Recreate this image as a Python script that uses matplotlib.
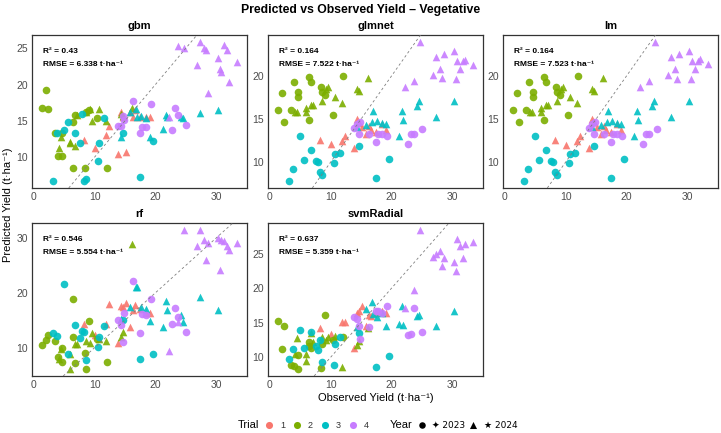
import matplotlib.pyplot as plt
from matplotlib.ticker import MultipleLocator

plt.rcParams['font.family'] = ['Liberation Sans', 'DejaVu Sans']

# observed yield, grouped: T1-2024, T2-2023, T2-2024, T3-2023, T3-2024, T4-2023, T4-2024
observed = [8.3, 10.0, 11.9, 12.4, 13.9, 14.4, 14.7, 15.2, 15.8, 16.4, 16.6, 17.5, 18.4, 19.2,
            1.3, 2.0, 2.3, 3.4, 4.0, 4.6, 4.7, 6.4, 6.5, 6.7, 8.4, 8.6, 9.1, 10.4, 12.0,
            4.1, 4.4, 5.9, 6.0, 6.7, 7.1, 8.6, 9.3, 9.6, 10.8, 11.8, 14.3, 14.6, 16.1,
            3.2, 3.8, 4.9, 5.7, 6.7, 7.6, 8.0, 8.3, 8.6, 10.5, 10.7, 11.5, 14.6, 17.5, 19.6,
            14.3, 15.9, 16.8, 17.0, 17.6, 18.4, 19.1, 21.3, 21.8, 22.0, 24.2, 24.5, 27.4, 30.3,
            13.9, 14.3, 14.6, 14.9, 16.3, 17.5, 17.8, 18.4, 19.3, 22.8, 23.2, 23.7, 25.1,
            22.2, 23.8, 24.7, 26.9, 27.4, 28.0, 28.3, 28.7, 30.4, 30.6, 30.9, 31.3, 31.8, 32.2, 33.5]
trial = [1] * 14 + [2] * 15 + [2] * 14 + [3] * 15 + [3] * 14 + [4] * 13 + [4] * 15
year = [2024] * 14 + [2023] * 15 + [2024] * 14 + [2023] * 15 + [2024] * 14 + [2023] * 13 + [2024] * 15

pred_gbm = [12.3, 11.2, 13.0, 14.3, 10.5, 16.2, 15.5, 10.7, 16.2, 15.6, 16.5, 15.6, 15.5, 15.6,
            16.8, 19.2, 16.7, 13.4, 10.1, 10.1, 13.3, 14.8, 8.5, 15.8, 8.5, 16.2, 16.5, 15.4, 8.5,
            11.3, 12.8, 12.1, 11.9, 11.6, 15.8, 16.3, 16.7, 15.0, 16.7, 15.0, 16.0, 15.7, 16.8,
            6.7, 13.4, 13.7, 14.9, 13.3, 12.0, 16.0, 6.7, 7.0, 9.5, 11.9, 15.4, 13.3, 7.3, 12.2,
            12.8, 16.3, 16.7, 15.6, 15.7, 15.4, 12.8, 13.9, 15.8, 15.5, 15.6, 15.4, 16.1, 16.5,
            14.3, 14.3, 15.7, 15.1, 17.8, 13.4, 14.2, 14.2, 17.4, 13.8, 16.8, 15.8, 14.4,
            15.6, 25.4, 25.0, 22.7, 25.9, 25.0, 24.8, 18.8, 23.7, 22.1, 21.8, 25.5, 24.8, 20.4, 23.1]
pred_glmnet = [12.6, 12.1, 12.5, 13.1, 11.7, 15.0, 14.6, 14.1, 13.3, 14.2, 13.8, 13.5, 14.4, 13.7,
               16.1, 18.1, 14.7, 16.1, 19.3, 18.2, 17.6, 19.9, 14.9, 19.3, 18.8, 18.2, 17.8, 15.5, 20.0,
               15.8, 15.9, 16.3, 15.8, 16.7, 16.7, 17.1, 18.5, 18.7, 17.6, 16.9, 18.5, 18.3, 19.8,
               7.8, 9.2, 13.0, 10.3, 11.4, 10.1, 10.0, 8.9, 8.5, 9.9, 11.0, 11.1, 11.9, 8.1, 10.4,
               14.1, 14.3, 14.7, 16.0, 14.8, 14.6, 14.5, 13.1, 16.0, 14.9, 16.5, 17.1, 15.3, 17.1,
               14.0, 14.4, 13.3, 14.7, 13.3, 12.3, 13.3, 13.3, 13.1, 12.1, 13.3, 13.3, 13.9,
               18.7, 19.5, 24.0, 20.1, 22.2, 20.8, 19.8, 22.6, 23.0, 19.7, 21.8, 20.8, 21.8, 21.9, 21.3]
pred_lm = [12.6, 12.0, 12.5, 13.1, 11.7, 15.0, 14.7, 14.1, 13.3, 14.2, 13.8, 13.5, 14.4, 13.7,
           16.1, 18.1, 14.7, 16.1, 19.3, 18.2, 17.6, 19.9, 14.9, 19.3, 18.8, 18.2, 17.8, 15.5, 20.0,
           15.8, 15.9, 16.3, 15.8, 16.7, 16.7, 17.1, 18.5, 18.7, 17.6, 16.9, 18.5, 18.3, 19.8,
           7.8, 9.2, 13.0, 10.3, 11.4, 10.1, 10.0, 8.9, 8.5, 9.9, 11.0, 11.1, 11.9, 8.1, 10.4,
           14.1, 14.3, 14.7, 16.0, 14.8, 14.6, 14.5, 13.1, 16.0, 14.9, 16.5, 17.1, 15.3, 17.1,
           14.0, 14.4, 13.3, 14.7, 13.3, 12.3, 13.3, 13.3, 13.1, 12.1, 13.3, 13.3, 13.9,
           18.7, 19.5, 24.0, 20.1, 22.2, 20.9, 19.7, 22.6, 23.0, 19.7, 21.8, 20.9, 21.8, 22.0, 21.4]
pred_rf = [14.3, 12.3, 14.3, 17.9, 10.9, 17.6, 17.5, 18.1, 13.7, 16.8, 17.8, 17.0, 16.4, 16.3,
           10.5, 11.4, 12.3, 11.2, 8.3, 10.0, 7.4, 18.9, 12.0, 7.2, 9.1, 6.1, 14.9, 11.5, 7.4,
           7.9, 9.7, 6.1, 8.8, 10.6, 10.6, 11.2, 10.9, 12.6, 11.5, 11.2, 12.0, 12.9, 29.0,
           12.6, 12.1, 21.6, 8.9, 14.1, 11.8, 13.0, 12.9, 7.7, 10.1, 12.0, 14.0, 15.0, 8.0, 8.9,
           15.2, 17.5, 21.1, 21.0, 17.5, 17.0, 14.9, 13.7, 18.6, 16.9, 15.9, 14.7, 19.3, 16.8,
           15.0, 14.2, 11.1, 16.3, 22.2, 12.6, 16.1, 16.0, 18.9, 14.4, 17.3, 15.6, 12.9,
           9.4, 14.6, 31.5, 28.5, 31.5, 29.7, 26.0, 29.1, 30.0, 24.1, 29.7, 29.4, 28.5, 27.9, 29.1]
pred_svm = [14.3, 13.4, 15.2, 15.2, 11.4, 16.5, 16.7, 17.5, 14.6, 16.2, 16.0, 16.4, 16.8, 16.4,
            15.3, 11.2, 14.5, 8.9, 8.8, 10.4, 8.3, 12.2, 11.6, 11.3, 8.5, 12.0, 16.2, 12.5, 13.0,
            10.5, 12.8, 10.5, 9.5, 13.6, 12.3, 12.9, 12.5, 12.9, 13.1, 8.6, 11.8, 12.4, 14.2,
            9.8, 11.2, 13.9, 11.4, 13.7, 11.7, 11.1, 12.5, 9.3, 8.9, 12.0, 13.0, 13.5, 8.6, 10.2,
            14.4, 17.0, 18.0, 16.3, 15.9, 16.5, 14.5, 14.9, 17.5, 14.7, 16.0, 16.2, 14.6, 16.7,
            15.9, 15.5, 14.6, 12.6, 14.4, 16.8, 16.7, 16.5, 17.4, 13.3, 13.4, 17.2, 13.7,
            17.2, 19.8, 28.5, 24.5, 25.0, 25.4, 23.2, 24.4, 23.9, 22.5, 27.2, 26.2, 24.4, 26.4, 26.7]

models = ["gbm", "glmnet", "lm", "rf", "svmRadial"]
predictions = [pred_gbm, pred_glmnet, pred_lm, pred_rf, pred_svm]
r2_vals = ["0.43", "0.164", "0.164", "0.546", "0.637"]
rmse_vals = ["6.338", "7.522", "7.523", "5.554", "5.359"]
y_steps = [5, 5, 5, 10, 5]

trial_colors = {1: "#F8766D", 2: "#7CAE00", 3: "#00BFC4", 4: "#C77CFF"}
year_markers = {2023: "o", 2024: "^"}

W, H = 721, 433
fig = plt.figure(figsize=(W / 100, H / 100), dpi=100)

# panel boxes in pixels: left, top
panel_px = [(32, 35), (268, 35), (503, 35), (32, 223), (268, 223)]
pw, ph = 215, 153


def expand(vals):
    lo, hi = min(vals), max(vals)
    pad = 0.05 * (hi - lo)
    return lo - pad, hi + pad


for name, pred, r2, rmse, step, (px, py) in zip(models, predictions, r2_vals, rmse_vals,
                                                  y_steps, panel_px):
    ax = fig.add_axes([px / W, 1 - (py + ph) / H, pw / W, ph / H])
    for t in [1, 2, 3, 4]:
        for yr in [2023, 2024]:
            xs = [o for o, tt, y in zip(observed, trial, year) if tt == t and y == yr]
            ys = [p for p, tt, y in zip(pred, trial, year) if tt == t and y == yr]
            if xs:
                ax.scatter(xs, ys, s=30, marker=year_markers[yr], color=trial_colors[t],
                           alpha=0.9, linewidths=0, zorder=2)
    ax.axline((0, 0), slope=1, color="#7F7F7F", lw=0.6, ls=(0, (3, 3)), zorder=3)
    ax.set_xlim(*expand(observed))
    ax.set_ylim(*expand(pred))
    ax.set_xticks([0, 10, 20, 30])
    ax.yaxis.set_major_locator(MultipleLocator(step))
    ax.tick_params(length=0, labelsize=7.5, labelcolor="#4D4D4D", pad=3)
    for sp in ax.spines.values():
        sp.set_color("#333333")
        sp.set_linewidth(0.9)
    ax.set_title(name, fontsize=8, fontweight="bold", pad=4)
    ax.text(0.05, 0.89, f"R² = {r2}", transform=ax.transAxes, fontsize=6,
            fontweight="bold", va="center")
    ax.text(0.05, 0.81, f"RMSE = {rmse} t·ha⁻¹", transform=ax.transAxes, fontsize=6,
            fontweight="bold", va="center")

fig.text(0.5, 1 - 10 / H, "Predicted vs Observed Yield – Vegetative", ha="center",
         va="center", fontsize=8.8, fontweight="bold")
fig.text(376 / W, 1 - 398 / H, "Observed Yield (t·ha⁻¹)", ha="center", va="center", fontsize=8)
fig.text(8 / W, 1 - 205 / H, "Predicted Yield (t·ha⁻¹)", ha="center", va="center",
         fontsize=8, rotation=90)

# legend row
lg = fig.add_axes([0, 0, 1, 16 / H])
lg.set_xlim(0, W)
lg.set_ylim(-8, 8)
lg.axis("off")
lg.text(238, 0, "Trial", fontsize=8, va="center")
for t, kx in zip([1, 2, 3, 4], [269, 297, 325, 353]):
    lg.scatter([kx], [0], s=26, marker="o", color=trial_colors[t], linewidths=0)
    lg.text(kx + 11, 0, str(t), fontsize=6.5, va="center", color="#333333")
lg.text(390, 0, "Year", fontsize=8, va="center")
lg.scatter([422], [0], s=22, marker="o", color="black", linewidths=0)
lg.text(432, 0, "✦ 2023", fontsize=6.5, va="center", family=["DejaVu Sans"])
lg.scatter([473], [0], s=26, marker="^", color="black", linewidths=0)
lg.text(484, 0, "★ 2024", fontsize=6.5, va="center", family=["DejaVu Sans"])

fig.savefig("out.png", dpi=100)
